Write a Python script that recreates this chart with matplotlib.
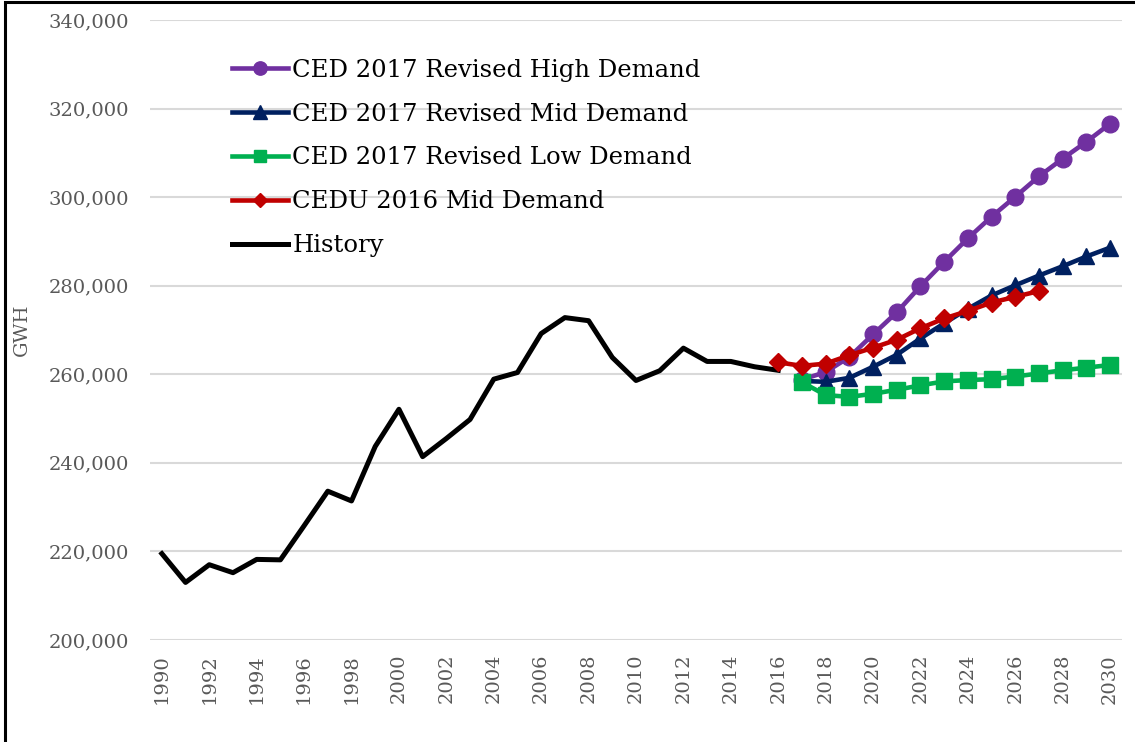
import matplotlib
matplotlib.use("Agg")
import matplotlib.pyplot as plt
from matplotlib.patches import Rectangle

# History 1990-2016
hist_years = list(range(1990, 2017))
history = [219500, 213000, 217000, 215200, 218200, 218100, 225800, 233600, 231400,
           243700, 252100, 241400, 245500, 249800, 258900, 260400, 269200, 272800,
           272100, 263800, 258600, 260800, 265900, 262900, 262900, 261700, 260900]

# forecasts
fc_years = list(range(2017, 2031))
high = [258800, 260500, 263900, 269000, 274000, 279900, 285400, 290700, 295600,
        300100, 304700, 308700, 312500, 316600]
mid = [258500, 258300, 259200, 261700, 264400, 268100, 271500, 274800, 277800,
       280100, 282300, 284400, 286600, 288600]
low = [258200, 255300, 254900, 255600, 256500, 257500, 258400, 258700, 258900,
       259500, 260200, 260900, 261500, 262100]

cedu_years = list(range(2016, 2028))
cedu = [262700, 261900, 262400, 264300, 266000, 267800, 270400, 272600, 274300,
        276200, 277500, 278800]

tick_years = list(range(1990, 2031, 2))
y_ticks = list(range(200000, 340001, 20000))

plt.rcParams['font.family'] = ['DejaVu Serif']

fig = plt.figure(figsize=(11.35, 7.42), dpi=100)
ax = fig.add_axes([150 / 1135, 1 - 640 / 742, 972 / 1135, 620 / 742])

ax.plot(fc_years, high, color='#7030A0', lw=3.3, marker='o', ms=12,
        label='CED 2017 Revised High Demand', zorder=3)
ax.plot(fc_years, mid, color='#002060', lw=3.3, marker='^', ms=12,
        label='CED 2017 Revised Mid Demand', zorder=4)
ax.plot(fc_years, low, color='#00B050', lw=3.3, marker='s', ms=11,
        label='CED 2017 Revised Low Demand', zorder=5)
ax.plot(cedu_years, cedu, color='#C00000', lw=3.3, marker='D', ms=9,
        label='CEDU 2016 Mid Demand', zorder=6)
ax.plot(hist_years, history, color='black', lw=3.6, label='History', zorder=2)

ax.set_xlim(1989.5, 2030.5)
ax.set_ylim(200000, 340000)
ax.set_xticks(tick_years)
ax.set_xticklabels([str(y) for y in tick_years], rotation=90)
ax.set_yticks(y_ticks)
ax.set_yticklabels([f'{v:,}' for v in y_ticks])
ax.tick_params(length=0, labelsize=14, colors='#595959', pad=10)
ax.tick_params(axis='y', pad=15)
for s in ax.spines.values():
    s.set_visible(False)
ax.grid(axis='y', color='#D9D9D9', lw=1.5)
ax.set_axisbelow(True)
ax.set_ylabel('GWH', fontsize=14, color='#595959', labelpad=13)

ax.legend(loc='upper left', bbox_to_anchor=(0.084, 0.9376), frameon=False,
          fontsize=17.5, handlelength=2.3, handletextpad=0.2, labelspacing=0.86,
          markerscale=0.8, borderaxespad=0, borderpad=0)

# outer chart border (bottom and right are cropped in the source)
fig.patches.append(Rectangle((4.5 / 1135, -0.1), 1.1, 1.1 - 2 / 742,
                             transform=fig.transFigure, fill=False,
                             edgecolor='black', lw=2.2))

fig.savefig('out.png', dpi=100)
